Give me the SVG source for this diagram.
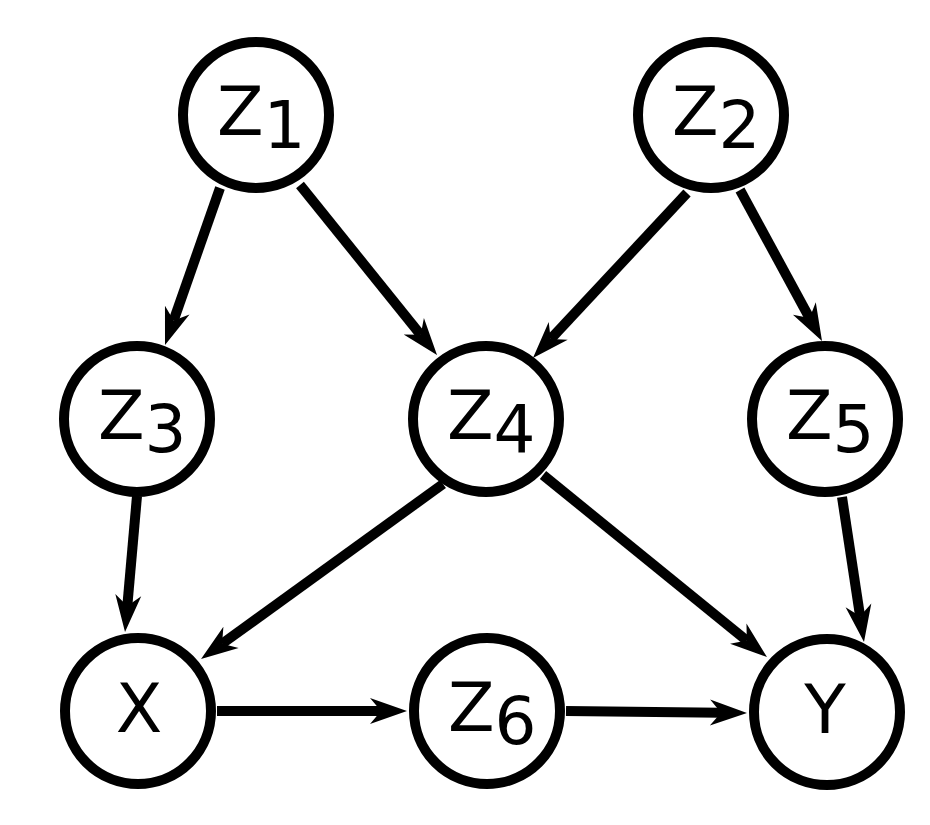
<svg xmlns="http://www.w3.org/2000/svg" width="930" height="825" viewBox="0 0 930 825">
<style>
.node circle { fill: #ffffff; stroke: #000000; stroke-width: 10; }
.node text { font-family: "DejaVu Sans", "Liberation Sans", sans-serif; font-size: 68px; fill: #000000; }
.node tspan.sub { font-size: 66px; }
.edges line { stroke: #000000; stroke-width: 10; marker-end: url(#ah); }
</style>
<defs>
<marker id="ah" markerUnits="userSpaceOnUse" markerWidth="42" markerHeight="32" viewBox="0 -16 42 32" refX="11" refY="0" orient="auto" overflow="visible">
<path d="M0,-13 L37,0 L0,13 L11,0 Z" fill="#000000"/>
</marker>
</defs>
<rect x="0" y="0" width="930" height="825" fill="#ffffff"/>
<g id="connectors" class="edges">
<line x1="220" y1="188" x2="173.6" y2="320.5"/>
<line x1="300" y1="185" x2="420.7" y2="334.8"/>
<line x1="687" y1="193" x2="550.7" y2="339.0"/>
<line x1="740" y1="190" x2="809.6" y2="318.1"/>
<line x1="137" y1="496" x2="127.3" y2="606.1"/>
<line x1="443" y1="484" x2="222.1" y2="643.8"/>
<line x1="543" y1="475" x2="746.8" y2="640.6"/>
<line x1="842" y1="497" x2="860.1" y2="616.3"/>
<line x1="217" y1="711" x2="381" y2="711"/>
<line x1="566" y1="711" x2="721" y2="712.7"/>
</g>
<g id="Z1" class="node"><circle cx="256" cy="115" r="73"/><text x="217" y="135">Z<tspan class="sub" dy="13">1</tspan></text></g>
<g id="Z2" class="node"><circle cx="711" cy="115" r="73"/><text x="672" y="135">Z<tspan class="sub" dy="13">2</tspan></text></g>
<g id="Z3" class="node"><circle cx="137" cy="419" r="73"/><text x="98" y="439">Z<tspan class="sub" dy="13">3</tspan></text></g>
<g id="Z4" class="node"><circle cx="486" cy="419" r="73"/><text x="447" y="439">Z<tspan class="sub" dy="13">4</tspan></text></g>
<g id="Z5" class="node"><circle cx="825" cy="419" r="73"/><text x="786" y="439">Z<tspan class="sub" dy="13">5</tspan></text></g>
<g id="X" class="node"><circle cx="138" cy="711" r="73"/><text x="139" y="732" text-anchor="middle">X</text></g>
<g id="Z6" class="node"><circle cx="487" cy="711" r="73"/><text x="448" y="731">Z<tspan class="sub" dy="13">6</tspan></text></g>
<g id="Y" class="node"><circle cx="827" cy="712" r="73"/><text x="825" y="733" text-anchor="middle">Y</text></g>
</svg>
